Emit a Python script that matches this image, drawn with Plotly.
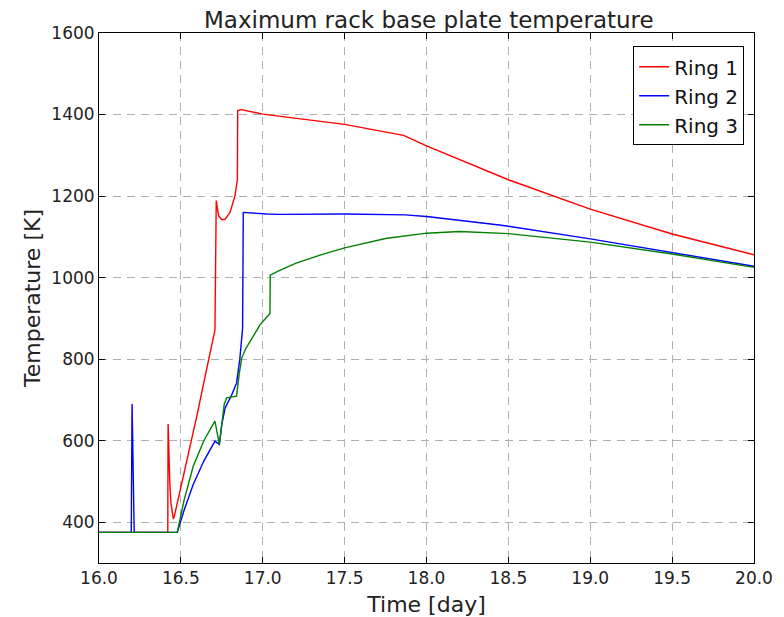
import plotly.graph_objects as go

# Ring 1 (red)
t1 = [16.0, 16.42, 16.422, 16.426, 16.433, 16.440, 16.447, 16.454, 16.462, 16.48, 16.505, 16.535, 16.566,
      16.6, 16.637, 16.675, 16.708, 16.716, 16.73, 16.749, 16.77, 16.8, 16.83, 16.845, 16.847, 16.87,
      17.0, 17.5, 17.86, 18.0, 18.445, 18.5, 19.0, 19.5, 20.0]
T1 = [375, 375, 641, 560, 490, 445, 418, 408, 418, 450, 493, 548, 599,
      665, 737, 805, 871, 1189, 1152, 1142, 1143, 1160, 1200, 1240, 1410, 1412,
      1401, 1376, 1349, 1323, 1250, 1240, 1168, 1107, 1056]

# Ring 2 (blue)
t2 = [16.0, 16.197, 16.202, 16.215, 16.478, 16.52, 16.576, 16.64, 16.708, 16.735, 16.75, 16.77,
      16.81, 16.84, 16.86, 16.877, 16.881, 16.93, 17.024, 17.1, 17.5, 17.87, 18.0, 18.445, 18.5,
      19.0, 19.5, 20.0]
T2 = [375, 375, 690, 375, 375, 430, 493, 550, 599, 591, 640, 680,
      712, 741, 800, 876, 1160, 1158, 1156, 1155, 1156, 1154, 1150, 1129, 1126,
      1095, 1061, 1028]

# Ring 3 (green)
t3 = [16.0, 16.478, 16.52, 16.576, 16.64, 16.708, 16.735, 16.75, 16.765, 16.78, 16.84, 16.855, 16.871,
      16.895, 16.922, 16.983, 17.044, 17.046, 17.1, 17.2, 17.35, 17.5, 17.75, 18.0, 18.2, 18.445,
      18.5, 19.0, 19.5, 20.0]
T3 = [375, 375, 455, 538, 600, 648, 591, 640, 690, 705, 709, 760, 802,
      825, 843, 884, 912, 1006, 1017, 1035, 1055, 1073, 1096, 1109, 1113, 1110,
      1108, 1087, 1058, 1025]

series = [("Ring 1", t1, T1, "#ff0000"), ("Ring 2", t2, T2, "#0000ff"), ("Ring 3", t3, T3, "#008000")]

fig = go.Figure()
for name, x, y, c in series:
    fig.add_trace(go.Scatter(x=x, y=y, mode="lines", name=name,
                             line=dict(color=c, width=1.4)))

font = "DejaVu Sans"
axis_common = dict(
    showline=True, linecolor="black", linewidth=1, mirror="ticks",
    ticks="inside", ticklen=6, tickcolor="black",
    showgrid=True, gridcolor="#b0b0b0", griddash="8px,6px", gridwidth=1,
    zeroline=False, automargin=False,
    tickfont=dict(family=font, size=17, color="#222"),
)

fig.update_layout(
    width=784, height=617,
    margin=dict(l=99, r=30, t=33, b=54),
    paper_bgcolor="white", plot_bgcolor="white",
    font=dict(family=font, color="#222"),
    title=dict(text="Maximum rack base plate temperature", x=0.547, xanchor="center",
               y=0.968, yanchor="middle", font=dict(family=font, size=23, color="#222")),
    xaxis=dict(range=[16, 20], dtick=0.5, tick0=16, tickformat=".1f",
               title=dict(text="Time [day]", font=dict(family=font, size=22), standoff=9),
               **axis_common),
    yaxis=dict(range=[300, 1600], dtick=200, tick0=0,
               title=dict(text="Temperature [K]", font=dict(family=font, size=22), standoff=4),
               **axis_common),
    legend=dict(x=0.985, y=0.975, xanchor="right", yanchor="top",
                bordercolor="black", borderwidth=1, bgcolor="white",
                font=dict(family=font, size=20, color="#111")),
    showlegend=True,
)

fig.write_html("out.html")
